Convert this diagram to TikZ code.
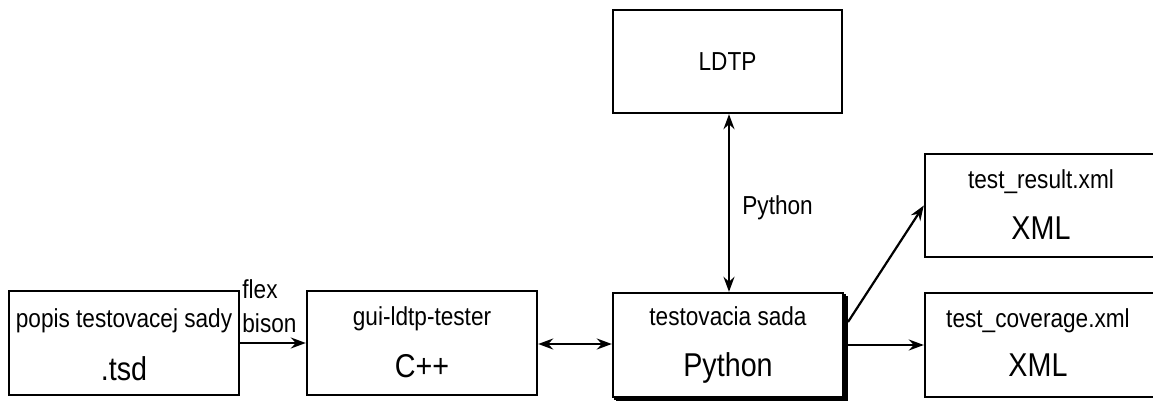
\documentclass[tikz,border=0pt]{standalone}
\usepackage{fontspec}
\setmainfont[FakeStretch=0.87]{Liberation Sans}
\usetikzlibrary{arrows.meta}

\tikzset{
  box/.style={draw, line width=1.2pt, fill=white, inner sep=0pt,
    minimum width=#1*0.5pt, minimum height=52pt},
  box/.default=230,
  small/.style={inner sep=0pt, font=\fontsize{13}{15}\selectfont},
  big/.style={inner sep=0pt, font=\fontsize{16.5}{19}\selectfont},
  tip/.style={Stealth[length=7.5pt,width=5.5pt,inset=2.5pt]},
  conn/.style={line width=1.1pt, -{Stealth[length=7.5pt,width=5.5pt,inset=2.5pt]}},
  biconn/.style={line width=1.1pt, {Stealth[length=7.5pt,width=5.5pt,inset=2.5pt]}-{Stealth[length=7.5pt,width=5.5pt,inset=2.5pt]}},
  stack/.style={draw, line width=0.7pt, fill=white}
}

\begin{document}
\begin{tikzpicture}[x=0.5pt,y=-0.5pt]
\useasboundingbox (0,0) rectangle (1153,401);

% input description
\node[box] (tsd) at (124,343) {};
\node[small, anchor=base] (tsdName) at (124,328) {popis testovacej sady};
\node[big, anchor=base] (tsdExt) at (124,380) {.tsd};

% generator
\node[box] (gen) at (422,343) {};
\node[small, anchor=base] (genName) at (422,326) {gui-ldtp-tester};
\node[big, anchor=base] (genLang) at (422,378) {C++};

% generated test suite, drawn as a stack of sheets
\draw[stack] (617,297) rectangle (847,401);
\draw[stack] (615,295) rectangle (845,399);
\node[box] (suite) at (728,345) {};
\node[small, anchor=base] (suiteName) at (728,326) {testovacia sada};
\node[big, anchor=base] (suiteLang) at (728,376) {Python};

% LDTP
\node[box=229, minimum height=51.5pt] (ldtp) at (727.5,61.5) {};
\node[small, anchor=base] (ldtpName) at (727.5,71) {LDTP};

% outputs
\node[box=233, minimum height=51.5pt] (result) at (1041.5,205.5) {};
\node[small, anchor=base] (resultName) at (1041,189) {test\_result.xml};
\node[big, anchor=base] (resultFmt) at (1041,240) {XML};

\node[box=233] (cover) at (1041.5,345) {};
\node[small, anchor=base] (coverName) at (1038,328) {test\_coverage.xml};
\node[big, anchor=base] (coverFmt) at (1038,377) {XML};

% connectors
\draw[conn] (tsd.east) -- (gen.west);
\node[small, anchor=base west] (flex) at (242,299) {flex};
\node[small, anchor=base west] (bison) at (242,333) {bison};

\draw[biconn] (gen.east |- 0,344) -- (suite.west |- 0,344);

\draw[biconn] (ldtp.south -| 729,0) -- (suite.north -| 729,0);
\node[small, anchor=base west] (py) at (742,215) {Python};

\coordinate (outA) at (848,322);
\coordinate (outB) at (848,345);
\draw[conn] (outA) -- (result.west);
\draw[conn] (outB) -- (cover.west);
\end{tikzpicture}
\end{document}
